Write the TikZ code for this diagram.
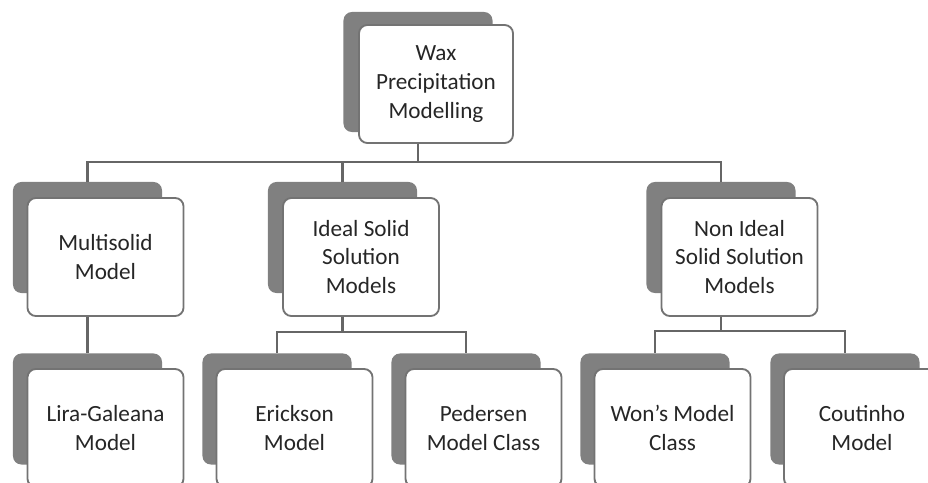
\documentclass[tikz,border=0pt]{standalone}
\usepackage{fontspec}
\setmainfont{Carlito}

\begin{document}
\begin{tikzpicture}[x=0.025cm,y=-0.025cm,
    back/.style={fill=black!50,rounded corners=6pt,minimum width=3.725cm,minimum height=2.775cm,inner sep=0pt},
    card/.style={draw=black!55,line width=1.3pt,fill=white,rounded corners=6pt,minimum width=3.9cm,minimum height=2.95cm,inner sep=0pt,align=center,text=black!85,font=\fontsize{16.5}{20.5}\selectfont},
    link/.style={draw=black!60,line width=2pt}]
          \clip (0,0) rectangle (928,482);
          % grey backing cards
          \node[back,minimum height=3cm] (wax-s) at (418,72) {};
          \node[back] (multi-s) at (87.5,237.5) {};
          \node[back] (ideal-s) at (342.5,237.5) {};
          \node[back] (nonid-s) at (721,237.5) {};
          \node[back] (lira-s) at (87.5,409) {};
          \node[back] (erick-s) at (277,409) {};
          \node[back] (peder-s) at (466,409) {};
          \node[back] (wons-s) at (655,409) {};
          \node[back] (cout-s) at (845,409) {};
          % white cards
          \node[card,minimum width=3.85cm] (wax) at (436,84) {Wax\\Precipitation\\Modelling};
          \node[card] (multi) at (105.5,257) {Multisolid\\Model};
          \node[card] (ideal) at (361,257) {Ideal Solid\\Solution\\Models};
          \node[card] (nonid) at (739.5,257) {Non Ideal\\Solid Solution\\Models};
          \node[card] (lira) at (105.5,428) {Lira-Galeana\\Model};
          \node[card] (erick) at (294.5,428) {Erickson\\Model};
          \node[card] (peder) at (483.5,428) {Pedersen\\Model Class};
          \node[card] (wons) at (672.5,428) {Won's Model\\Class};
          \node[card] (cout) at (862,428) {Coutinho\\Model};
          % connectors
          \draw[link] (wax-s |- wax.south) -- ++(0,18) -| (multi-s.north);
          \draw[link] (wax-s |- wax.south) -- ++(0,18) -| (ideal-s.north);
          \draw[link] (wax-s |- wax.south) -- ++(0,18) -| (nonid-s.north);
          \draw[link] (multi-s |- multi.south) -- (lira-s.north);
          \draw[link] (ideal-s |- ideal.south) -- ++(0,15) -| (erick-s.north);
          \draw[link] (ideal-s |- ideal.south) -- ++(0,15) -| (peder-s.north);
          \draw[link] (nonid-s |- nonid.south) -- ++(0,14) -| (wons-s.north);
          \draw[link] (nonid-s |- nonid.south) -- ++(0,14) -| (cout-s.north);
        \end{tikzpicture}
\end{document}
